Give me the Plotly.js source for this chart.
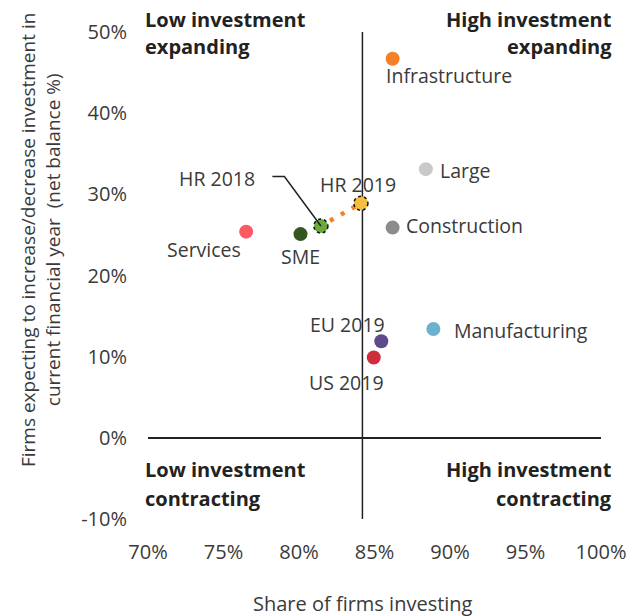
<!DOCTYPE html>
<html>
<head>
<meta charset="utf-8">
<script src="https://cdn.plot.ly/plotly-3.0.1.min.js"></script>
<style>html,body{margin:0;padding:0;background:#fff;}#chart{width:636px;height:616px;}</style>
</head>
<body>
<div id="chart"></div>
<script>
// ---- data ----
const categories = ['Infrastructure','Large','Construction','Manufacturing','EU 2019','US 2019','Services','SME','HR 2018','HR 2019'];
const shareInvesting = [86.2, 88.4, 86.2, 88.9, 85.45, 84.95, 76.5, 80.1, 81.45, 84.1];   // x, %
const netBalance     = [46.7, 33.1, 25.9, 13.4, 11.9, 9.9, 25.4, 25.1, 26.1, 28.9];      // y, %
const dividerShare = 84.2;   // vertical reference line (x, %)
const yTickVals = [-10, 0, 10, 20, 30, 40, 50];
const yTickText = ['-10%', '0%', '10%', '20%', '30%', '40%', '50%'];
const xTickVals = [70, 75, 80, 85, 90, 95, 100];
const xTickText = ['70%', '75%', '80%', '85%', '90%', '95%', '100%'];

// ---- styles ----
const pointColors = {
  'Infrastructure': '#F58025', 'Large': '#C9C9C9', 'Construction': '#8C8C8C',
  'Manufacturing': '#6CB2CE', 'EU 2019': '#5C4A8A', 'US 2019': '#CF2E3A',
  'Services': '#FA5A64', 'SME': '#37561F', 'HR 2018': '#6DAA3E', 'HR 2019': '#F4BE3F'
};
// label placement: [xanchor, xshift px, yshift px]
const labelPlace = {
  'Infrastructure': ['left', -9, -17], 'Large': ['left', 12, -1], 'Construction': ['left', 11, 2],
  'Manufacturing': ['left', 19, -1], 'EU 2019': ['right', 6, 17], 'US 2019': ['right', 12, -25],
  'Services': ['right', -3, -18], 'SME': ['center', 0, -22], 'HR 2018': ['right', -64, 47],
  'HR 2019': ['center', -3, 19]
};
const FONT = '"Segoe UI", "Open Sans", "Noto Sans", sans-serif';
const textColor = '#3a3a3a';
const LABEL_SIZE = 19.5, TICK_SIZE = 20, TITLE_SIZE = 20, QUAD_SIZE = 20;

const W = 636, H = 616, L = 148, R = 35, T = 32, B = 97;
const pw = W - L - R, ph = H - T - B;
const px2x = p => (p - L) / pw;
const px2y = p => (H - B - p) / ph;

const i18 = categories.indexOf('HR 2018');
const i19 = categories.indexOf('HR 2019');

const traces = [
  { // dotted connector HR 2018 -> HR 2019
    x: [shareInvesting[i18], shareInvesting[i19]],
    y: [netBalance[i18], netBalance[i19]],
    mode: 'lines', hoverinfo: 'skip', showlegend: false,
    line: {color: '#F58025', width: 4.5, dash: '2px,8.5px,4px,8.5px,4px,8.5px,4px,60px'}
  },
  {
    x: shareInvesting, y: netBalance, text: categories,
    mode: 'markers', showlegend: false,
    marker: {size: 14, color: categories.map(c => pointColors[c]), line: {width: 0}}
  }
];

const annotations = categories.map((c, i) => ({
  x: shareInvesting[i], y: netBalance[i], xref: 'x', yref: 'y',
  text: c, showarrow: false, xanchor: labelPlace[c][0], yanchor: 'middle',
  xshift: labelPlace[c][1], yshift: labelPlace[c][2],
  font: {family: FONT, size: LABEL_SIZE, color: textColor}
}));

const quad = [
  ['Low investment', 143, 19, 'left'], ['expanding', 143, 47, 'left'],
  ['High investment', 614, 19, 'right'], ['expanding', 614, 47, 'right'],
  ['Low investment', 143, 469, 'left'], ['contracting', 143, 498, 'left'],
  ['High investment', 614, 469, 'right'], ['contracting', 614, 498, 'right']
];
quad.forEach(q => annotations.push({
  x: px2x(q[1]), y: px2y(q[2]), xref: 'paper', yref: 'paper', showarrow: false,
  xanchor: q[3], yanchor: 'middle', text: '<b>' + q[0] + '</b>',
  font: {family: FONT, size: QUAD_SIZE, color: '#222'}
}));

// axis titles
annotations.push({
  x: px2x(40), y: px2y(240), xref: 'paper', yref: 'paper', showarrow: false,
  textangle: -90, xanchor: 'center', yanchor: 'middle', align: 'center',
  text: 'Firms expecting to increase/decrease investment in<br>current financial year  (net balance %)',
  font: {family: FONT, size: 19, color: textColor}
});
annotations.push({
  x: px2x(363), y: px2y(603), xref: 'paper', yref: 'paper', showarrow: false,
  xanchor: 'center', yanchor: 'middle', text: 'Share of firms investing',
  font: {family: FONT, size: TITLE_SIZE, color: textColor}
});

const shapes = [
  {type: 'line', xref: 'x', yref: 'paper', x0: dividerShare, x1: dividerShare, y0: 0, y1: 1,
   line: {color: '#222', width: 1.5}, layer: 'below'},
  {type: 'path', xref: 'x', yref: 'y', xsizemode: 'pixel', ysizemode: 'pixel',
   xanchor: shareInvesting[i18], yanchor: netBalance[i18],
   path: 'M 0 0 L -36.5 49.5 L -48.5 49.5', line: {color: '#222', width: 1.5}}
];
[i18, i19].forEach(i => shapes.push({
  type: 'circle', xref: 'x', yref: 'y', xsizemode: 'pixel', ysizemode: 'pixel',
  xanchor: shareInvesting[i], yanchor: netBalance[i], x0: -7, x1: 7, y0: -7, y1: 7,
  line: {color: '#111', width: 1.5, dash: 'dot'}
}));

const layout = {
  width: W, height: H, margin: {l: L, r: R, t: T, b: B, pad: 0},
  paper_bgcolor: '#fff', plot_bgcolor: '#fff',
  font: {family: FONT, size: 18, color: textColor},
  showlegend: false,
  xaxis: {range: [70, 100], tickvals: xTickVals, ticktext: xTickText, showgrid: false,
          zeroline: false, showline: false, ticks: '', ticklabelstandoff: 19,
          tickfont: {family: FONT, size: TICK_SIZE, color: textColor}, fixedrange: true},
  yaxis: {range: [-10, 50], tickvals: yTickVals, ticktext: yTickText, showgrid: false,
          zeroline: true, zerolinecolor: '#222', zerolinewidth: 1.5, showline: false,
          ticks: '', ticklabelstandoff: 20,
          tickfont: {family: FONT, size: TICK_SIZE, color: textColor}, fixedrange: true},
  annotations: annotations, shapes: shapes
};

Plotly.newPlot('chart', traces, layout, {displayModeBar: false, staticPlot: true});
</script>
</body>
</html>
